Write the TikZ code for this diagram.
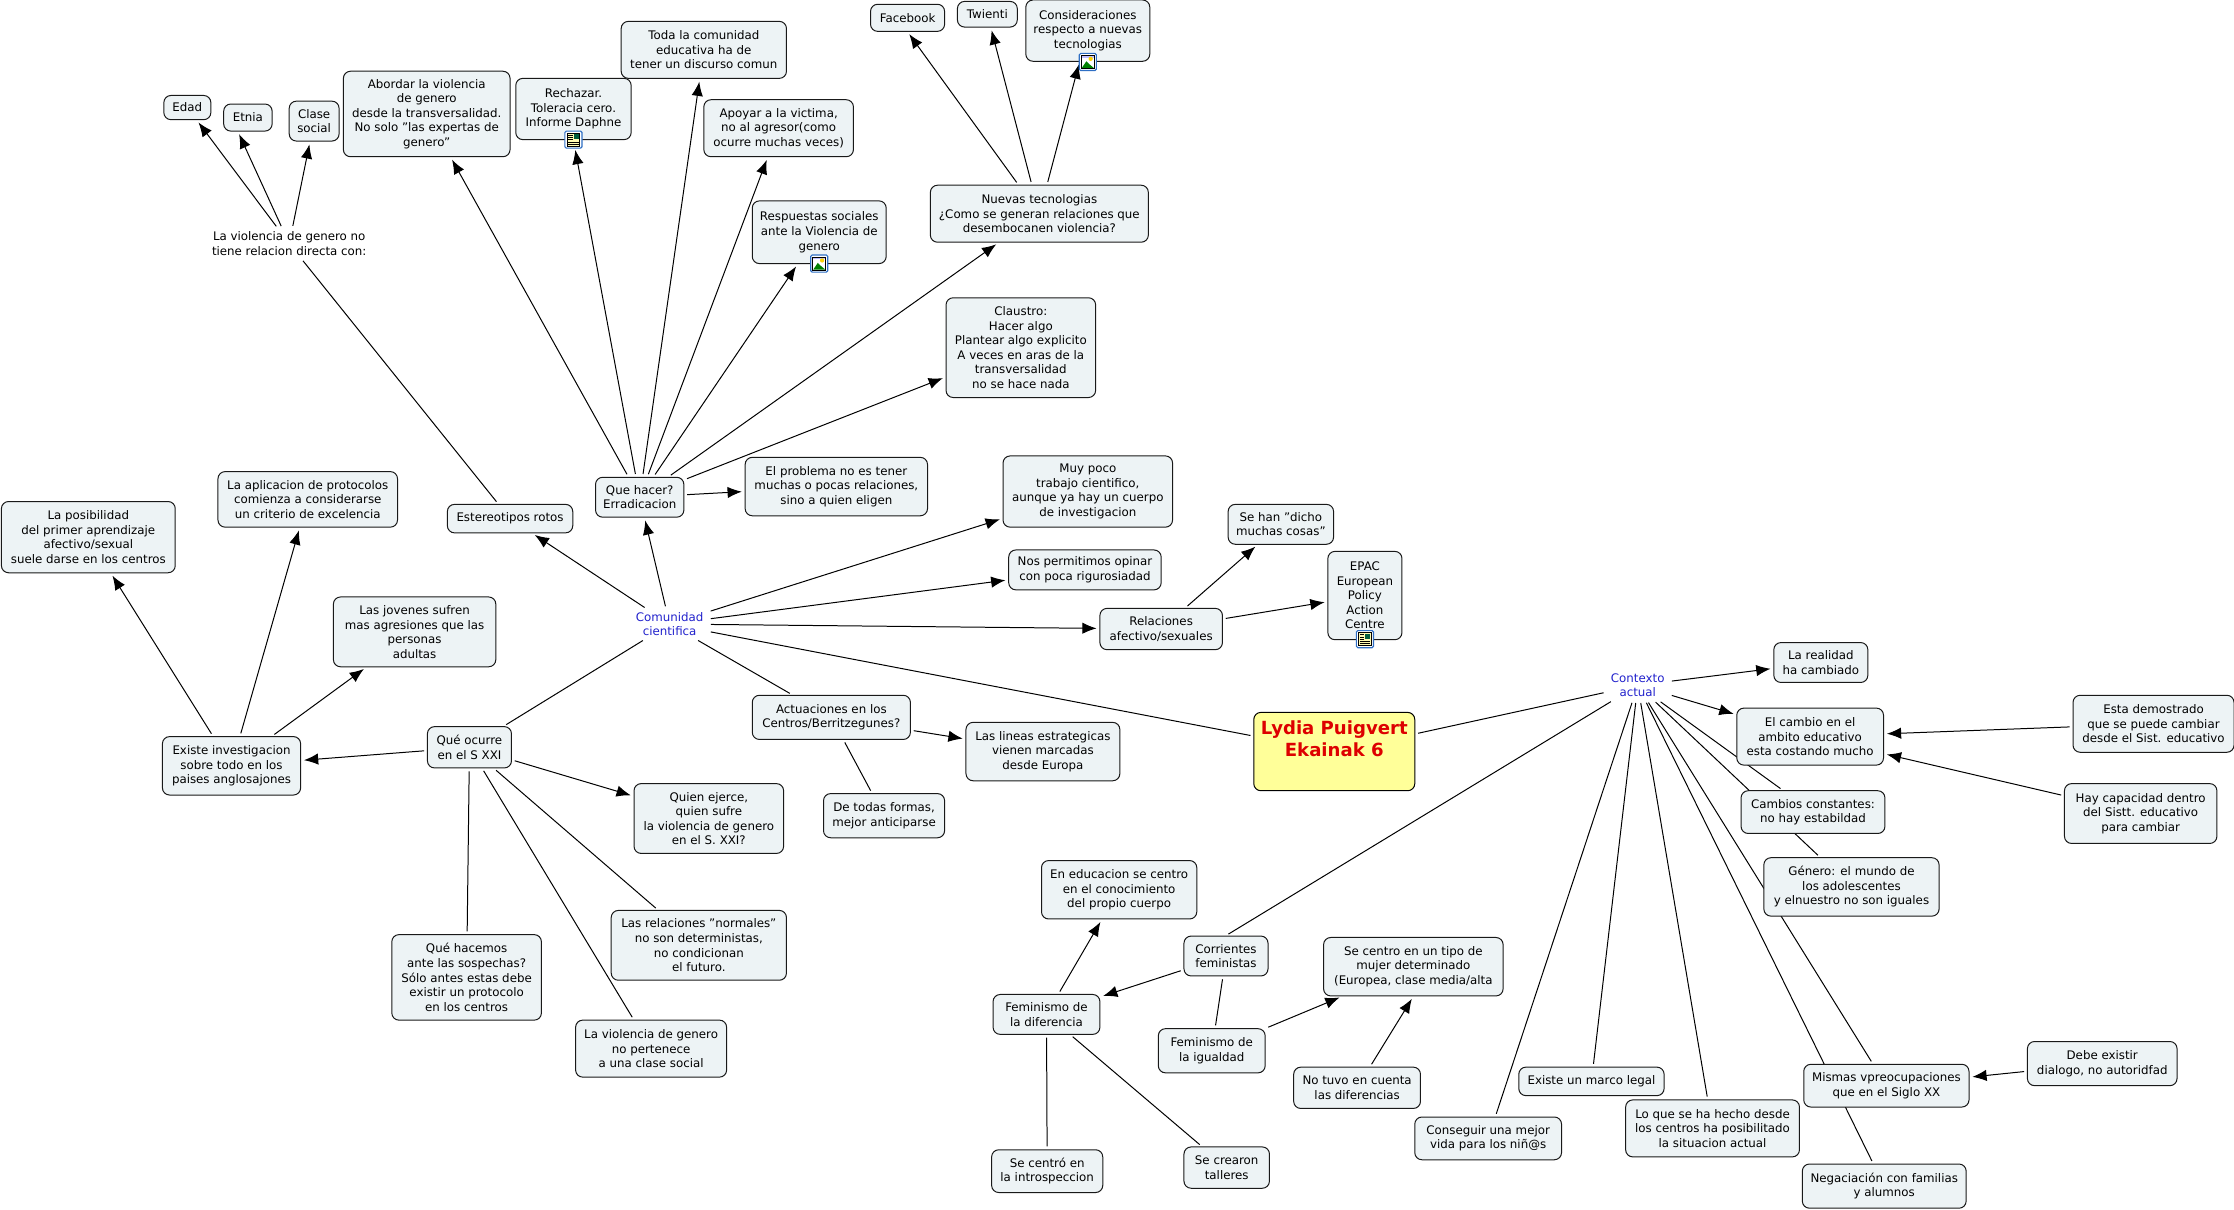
\documentclass[tikz,border=0pt]{standalone}
\usepackage{fontspec}
\setmainfont{DejaVu Sans}
\usetikzlibrary{arrows.meta,backgrounds}
\definecolor{boxfill}{HTML}{EDF3F5}
\definecolor{titlefill}{HTML}{FFFF99}
\definecolor{titlered}{HTML}{DD0000}
\definecolor{linkblue}{HTML}{2222CC}
\definecolor{iconblue}{HTML}{2F6FC4}
\tikzset{
    box/.style={draw=black!90, fill=boxfill, rounded corners=5pt, align=center, inner sep=1pt, line width=0.7pt,
        font=\fontsize{8.3}{10.2}\selectfont},
    plain/.style={align=center, inner xsep=3pt, inner ysep=2pt, font=\fontsize{8.3}{10.2}\selectfont},
    edge/.style={line width=0.7pt, shorten <=2pt, shorten >=2pt},
    arrow/.style={edge, -{Latex[length=10pt,width=8pt]}},
    imgicon/.pic={
        \draw[iconblue, fill=white, rounded corners=1pt, line width=0.8pt] (-6,-6) rectangle (6,6);
        \draw[black, fill=white, line width=0.6pt] (-4.5,-4.5) rectangle (4.5,4.5);
        \fill[green!50!black] (-4.2,4.2) -- (-1,-0.5) -- (1,1.5) -- (4.2,4.2) -- cycle;
        \fill[blue!25] (-4.2,-4.2) rectangle (4.2,-3);
        \fill[yellow!70!orange] (2,-2.2) circle (1.5);
    },
    docicon/.pic={
        \draw[iconblue, fill=white, rounded corners=1pt, line width=0.8pt] (-6,-6) rectangle (6,6);
        \draw[black, fill=yellow!30, line width=0.6pt] (-4.5,-4.5) rectangle (4.5,4.5);
        \fill[blue!40!green!60!black] (0.3,-3.8) rectangle (3.8,-0.3);
        \foreach \ly in {-3.2,-1.6,0} \draw[black, line width=0.5pt] (-3.6,\ly) -- (-0.5,\ly);
        \foreach \ly in {1.6,3} \draw[black, line width=0.5pt] (-3.6,\ly) -- (3.6,\ly);
    }
}
\begin{document}
\begin{tikzpicture}[x=1pt,y=-1pt]
        \useasboundingbox (0,0) rectangle (1568,848.6);

        \node[box, draw=black, fill=titlefill, minimum width=113pt, minimum height=55pt, text=titlered, font=\fontsize{12.7}{15}\bfseries] (lydia) at (936.5,527.5) {Lydia Puigvert\\Ekainak 6\\[3pt] \mbox{}};
        \node[plain, text=linkblue] (comunidad) at (470,438) {Comunidad\\cientifica};
        \node[plain, text=linkblue] (contexto) at (1149.5,481) {Contexto\\actual};
        \node[plain] (nodirecta) at (203,171) {La violencia de genero no\\tiene relacion directa con:};

        \node[box, minimum width=33pt, minimum height=17pt] (edad) at (131.5,75.5) {Edad};
        \node[box, minimum width=34pt, minimum height=19pt] (etnia) at (174,82.5) {Etnia};
        \node[box, minimum width=35pt, minimum height=28pt] (clase) at (220.5,85) {Clase\\social};
        \node[box, minimum width=117pt, minimum height=60pt] (abordar) at (299.5,80) {Abordar la violencia\\de genero\\desde la transversalidad.\\No solo "las expertas de\\genero"};
        \node[box, minimum width=81pt, minimum height=43pt] (rechazar) at (402.5,76.5) {Rechazar.\\Toleracia cero.\\Informe Daphne};
        \node[box, minimum width=116pt, minimum height=40pt] (toda) at (494,35) {Toda la comunidad\\educativa ha de\\tener un discurso comun};
        \node[box, minimum width=105pt, minimum height=40pt] (apoyar) at (546.5,90) {Apoyar a la victima,\\no al agresor(como\\ocurre muchas veces)};
        \node[box, minimum width=94pt, minimum height=44pt] (respuestas) at (575,163) {Respuestas sociales\\ante la Violencia de\\genero};
        \node[box, minimum width=52pt, minimum height=19pt] (facebook) at (637,12.5) {Facebook};
        \node[box, minimum width=42pt, minimum height=18pt] (twienti) at (693,10) {Twienti};
        \node[box, minimum width=87pt, minimum height=43pt] (consideraciones) at (763.5,21.5) {Consideraciones\\respecto a nuevas\\tecnologias};
        \node[box, minimum width=153pt, minimum height=40pt] (nuevas) at (729.5,150) {Nuevas tecnologias\\¿Como se generan relaciones que\\desembocanen violencia?};
        \node[box, minimum width=105pt, minimum height=70pt] (claustro) at (716.5,244) {Claustro:\\Hacer algo\\Plantear algo explicito\\A veces en aras de la\\transversalidad\\no se hace nada};
        \node[box, minimum width=62pt, minimum height=28pt] (quehacer) at (449,349) {Que hacer?\\Erradicacion};
        \node[box, minimum width=128pt, minimum height=41pt] (problema) at (587,341.5) {El problema no es tener\\muchas o pocas relaciones,\\sino a quien eligen};
        \node[box, minimum width=88pt, minimum height=20pt] (estereotipos) at (358,364) {Estereotipos rotos};
        \node[box, minimum width=119pt, minimum height=50pt] (muypoco) at (763.5,345) {Muy poco\\trabajo cientifico,\\aunque ya hay un cuerpo\\de investigacion};
        \node[box, minimum width=107pt, minimum height=28pt] (opinar) at (761.5,400) {Nos permitimos opinar\\con poca rigurosiadad};
        \node[box, minimum width=86pt, minimum height=29pt] (relaciones) at (815,441.5) {Relaciones\\afectivo/sexuales};
        \node[box, minimum width=74pt, minimum height=28pt] (sehan) at (899,368) {Se han "dicho\\muchas cosas"};
        \node[box, minimum width=52pt, minimum height=62pt] (epac) at (958,418) {EPAC\\European\\Policy\\Action\\Centre};
        \node[box, minimum width=126pt, minimum height=39pt] (protocolos) at (216,350.5) {La aplicacion de protocolos\\comienza a considerarse\\un criterio de excelencia};
        \node[box, minimum width=122pt, minimum height=50pt] (posibilidad) at (62,377) {La posibilidad\\del primer aprendizaje\\afectivo/sexual\\suele darse en los centros};
        \node[box, minimum width=114pt, minimum height=49pt] (jovenes) at (291,443.5) {Las jovenes sufren\\mas agresiones que las\\personas\\adultas};
        \node[box, minimum width=97pt, minimum height=41pt] (investigacion) at (162.5,537.5) {Existe investigacion\\sobre todo en los\\paises anglosajones};
        \node[box, minimum width=59pt, minimum height=29pt] (queocurre) at (329.5,524.5) {Qué ocurre\\en el S XXI};
        \node[box, minimum width=111pt, minimum height=31pt] (actuaciones) at (583.5,503.5) {Actuaciones en los\\Centros/Berritzegunes?};
        \node[box, minimum width=108pt, minimum height=41pt] (lineas) at (732,527.5) {Las lineas estrategicas\\vienen marcadas\\desde Europa};
        \node[box, minimum width=85pt, minimum height=31pt] (detodas) at (620.5,572.5) {De todas formas,\\mejor anticiparse};
        \node[box, minimum width=105pt, minimum height=49pt] (quien) at (497.5,574.5) {Quien ejerce,\\quien sufre\\la violencia de genero\\en el S. XXI?};
        \node[box, minimum width=123pt, minimum height=49pt] (normales) at (490.5,663.5) {Las relaciones "normales"\\no son deterministas,\\no condicionan\\el futuro.};
        \node[box, minimum width=105pt, minimum height=60pt] (sospechas) at (327.5,686) {Qué hacemos\\ante las sospechas?\\Sólo antes estas debe\\existir un protocolo\\en los centros};
        \node[box, minimum width=106pt, minimum height=40pt] (nopertenece) at (457,736) {La violencia de genero\\no pertenece\\a una clase social};

        \node[box, minimum width=66pt, minimum height=28pt] (realidad) at (1278,465) {La realidad\\ha cambiado};
        \node[box, minimum width=103pt, minimum height=40pt] (cambio) at (1270.5,517) {El cambio en el\\ambito educativo\\esta costando mucho};
        \node[box, minimum width=113pt, minimum height=40pt] (demostrado) at (1511.5,508) {Esta demostrado\\que se puede cambiar\\desde el Sist. educativo};
        \node[box, minimum width=107pt, minimum height=42pt] (capacidad) at (1502.5,571) {Hay capacidad dentro\\del Sistt. educativo\\para cambiar};
        \node[box, minimum width=101pt, minimum height=30pt] (constantes) at (1272.5,570) {Cambios constantes:\\no hay estabildad};
        \node[box, minimum width=123pt, minimum height=41pt] (genero) at (1299.5,622.5) {Género: el mundo de\\los adolescentes\\y elnuestro no son iguales};
        \node[box, minimum width=105pt, minimum height=31pt] (dialogo) at (1475.5,746.5) {Debe existir\\dialogo, no autoridfad};
        \node[box, minimum width=116pt, minimum height=30pt] (mismas) at (1324,762) {Mismas vpreocupaciones\\que en el Siglo XX};
        \node[box, minimum width=115pt, minimum height=31pt] (negociacion) at (1322.5,832.5) {Negaciación con familias\\y alumnos};
        \node[box, minimum width=122pt, minimum height=40pt] (hecho) at (1202,792) {Lo que se ha hecho desde\\los centros ha posibilitado\\la situacion actual};
        \node[box, minimum width=102pt, minimum height=20pt] (marco) at (1117,759) {Existe un marco legal};
        \node[box, minimum width=103pt, minimum height=30pt] (ninos) at (1044.5,799) {Conseguir una mejor\\vida para los niñ@s};
        \node[box, minimum width=109pt, minimum height=41pt] (cuerpo) at (785.5,624.5) {En educacion se centro\\en el conocimiento\\del propio cuerpo};
        \node[box, minimum width=59pt, minimum height=28pt] (corrientes) at (860.5,671) {Corrientes\\feministas};
        \node[box, minimum width=126pt, minimum height=41pt] (tipomujer) at (992,678.5) {Se centro en un tipo de\\mujer determinado\\(Europea, clase media/alta};
        \node[box, minimum width=75pt, minimum height=28pt] (diferencia) at (734.5,712) {Feminismo de\\la diferencia};
        \node[box, minimum width=75pt, minimum height=31pt] (igualdad) at (850.5,737.5) {Feminismo de\\la igualdad};
        \node[box, minimum width=89pt, minimum height=29pt] (notuvo) at (952.5,763.5) {No tuvo en cuenta\\las diferencias};
        \node[box, minimum width=78pt, minimum height=30pt] (introspeccion) at (735,822) {Se centró en\\la introspeccion};
        \node[box, minimum width=60pt, minimum height=29pt] (talleres) at (861,819.5) {Se crearon\\talleres};

        \begin{pgfonlayer}{background}
        \draw[edge] (lydia) -- (comunidad);
        \draw[edge] (lydia) -- (contexto);
        \draw[arrow] (comunidad) -- (estereotipos);
        \draw[arrow] (comunidad) -- (quehacer);
        \draw[arrow] (comunidad) -- (muypoco);
        \draw[arrow] (comunidad) -- (opinar);
        \draw[arrow] (comunidad) -- (relaciones);
        \draw[edge] (comunidad) -- (actuaciones);
        \draw[edge] (comunidad) -- (queocurre);
        \draw[edge] (estereotipos) -- (nodirecta);
        \draw[arrow] (nodirecta) -- (edad);
        \draw[arrow] (nodirecta) -- ([xshift=-7pt]etnia.south);
        \draw[arrow] (nodirecta) -- (clase);
        \draw[arrow] (quehacer) -- (abordar);
        \draw[arrow, shorten >=7pt] (quehacer) -- (rechazar.south);
        \draw[arrow] (quehacer) -- (toda);
        \draw[arrow] (quehacer) -- (apoyar);
        \draw[arrow] (quehacer) -- (respuestas);
        \draw[arrow] (quehacer) -- (nuevas);
        \draw[arrow] (quehacer) -- (claustro);
        \draw[arrow] (quehacer) -- (problema);
        \draw[arrow] (nuevas) -- (facebook.south);
        \draw[arrow] (nuevas) -- (twienti);
        \draw[arrow] (nuevas) -- (consideraciones);
        \draw[arrow] (relaciones) -- (sehan);
        \draw[arrow] (relaciones) -- (epac);
        \draw[arrow] (actuaciones) -- (lineas);
        \draw[edge] (actuaciones) -- (detodas);
        \draw[arrow] (queocurre) -- (investigacion);
        \draw[arrow] (queocurre) -- (quien);
        \draw[edge] (queocurre) -- (normales);
        \draw[edge] (queocurre) -- (sospechas);
        \draw[edge] (queocurre) -- (nopertenece);
        \draw[arrow] (investigacion) -- (posibilidad);
        \draw[arrow] (investigacion) -- (protocolos);
        \draw[arrow] (investigacion) -- (jovenes);
        \draw[arrow] (contexto) -- (realidad);
        \draw[arrow] (contexto) -- (cambio);
        \draw[edge] (contexto) -- (constantes);
        \draw[edge] (contexto) -- (genero);
        \draw[edge] (contexto) -- (mismas);
        \draw[edge] (contexto) -- (negociacion);
        \draw[edge] (contexto) -- (hecho);
        \draw[edge] (contexto) -- (marco);
        \draw[edge] (contexto) -- (ninos);
        \draw[edge] (contexto) -- (corrientes.north);
        \draw[arrow] (demostrado) -- (cambio);
        \draw[arrow] (capacidad) -- (cambio);
        \draw[arrow] (dialogo) -- (mismas);
        \draw[arrow] (corrientes) -- (diferencia);
        \draw[edge] (corrientes) -- (igualdad);
        \draw[arrow] (diferencia) -- (cuerpo);
        \draw[edge] (diferencia) -- (introspeccion);
        \draw[edge] (diferencia) -- (talleres);
        \draw[arrow] (igualdad) -- (tipomujer);
        \draw[arrow] (notuvo) -- (tipomujer.south);
        \end{pgfonlayer}

        \pic at (402.5,98) {docicon};
        \pic at (575,185) {imgicon};
        \pic at (763.5,43.5) {imgicon};
        \pic at (958,448.6) {docicon};

    \end{tikzpicture}
\end{document}
